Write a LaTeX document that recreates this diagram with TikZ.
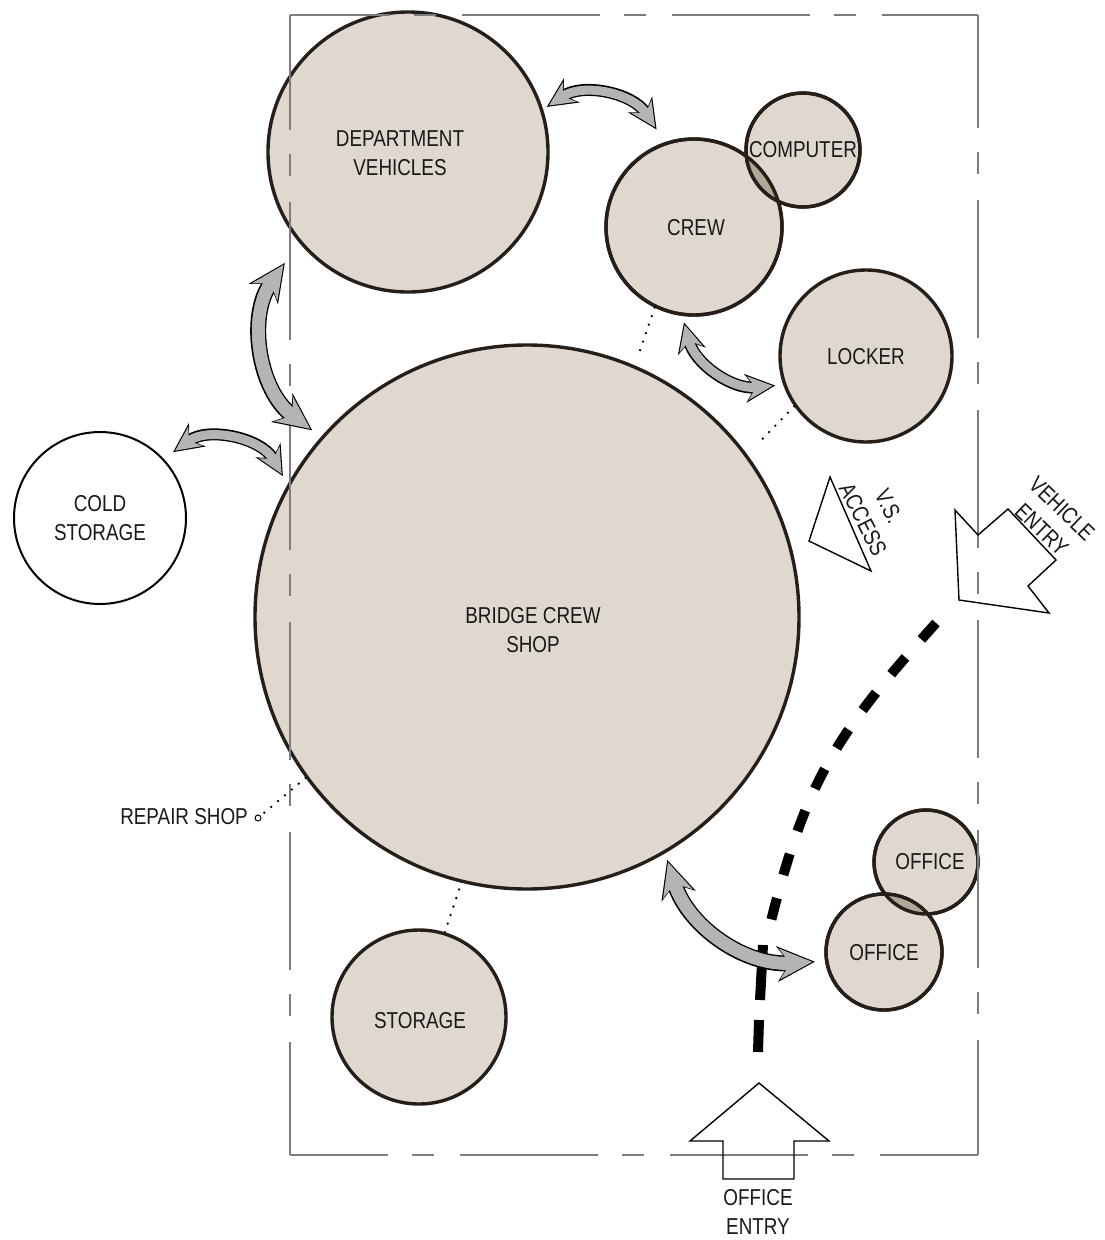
\documentclass[tikz,border=0pt]{standalone}
\usepackage{fontspec}
\setmainfont{Liberation Sans}[FakeStretch=0.82]
\usetikzlibrary{arrows.meta,calc}
\definecolor{roomfill}{RGB}{222,216,208}
\definecolor{roomedge}{RGB}{38,30,24}
\definecolor{overlapfill}{RGB}{180,166,150}
\definecolor{linkgray}{RGB}{180,180,180}
\definecolor{framegray}{RGB}{125,125,125}
\begin{document}
\begin{tikzpicture}[x=1pt,y=-1pt,
  room/.style={circle, draw=roomedge, line width=3.4pt, fill=roomfill, inner sep=0pt, minimum size=#1},
  openroom/.style={circle, draw=black, line width=2pt, fill=white, inner sep=0pt, minimum size=#1},
  ring/.style={draw=roomedge, line width=3.4pt},
  lbl/.style={font=\fontsize{23}{29}\selectfont, align=center, inner sep=0pt, text=black!90},
  frameline/.style={draw=framegray, line width=1.6pt, dash pattern=on 138pt off 24pt on 22pt off 26pt},
  dots/.style={line width=2.6pt, line cap=round, dash pattern=on 0pt off 9pt},
  outline/.style={draw=black, line width=1.4pt, line join=miter},
  fatS/.style={
    preaction={draw=black, line width=12pt, shorten <=0pt, shorten >=0pt,
      {Stealth[length=30pt,width=29pt,line width=0pt]}-{Stealth[length=30pt,width=29pt,line width=0pt]}},
    draw=linkgray, line width=9pt, shorten <=2.5pt, shorten >=2.5pt,
    {Stealth[length=25pt,width=24pt,line width=0pt]}-{Stealth[length=25pt,width=24pt,line width=0pt]}},
  fatL/.style={
    preaction={draw=black, line width=16pt, shorten <=0pt, shorten >=0pt,
      {Stealth[length=38pt,width=36pt,line width=0pt]}-{Stealth[length=38pt,width=36pt,line width=0pt]}},
    draw=linkgray, line width=13pt, shorten <=2.5pt, shorten >=2.5pt,
    {Stealth[length=33pt,width=31pt,line width=0pt]}-{Stealth[length=33pt,width=31pt,line width=0pt]}},
]
\useasboundingbox (0,0) rectangle (1104,1240);

% rooms
\node[room=280pt] (dv) at (408,152) {};
\node[room=176pt] (crew) at (694,227) {};
\node[room=114pt] (comp) at (803,150) {};
\node[room=172pt] (locker) at (866,356) {};
\node[room=544pt] (bridge) at (527,617) {};
\node[openroom=172pt] (cold) at (100,518) {};
\node[room=174pt] (storage) at (419,1017) {};
\node[room=104pt] (office1) at (926,862) {};
\node[room=116pt] (office2) at (884,952) {};

% overlapping rooms: shared area and hidden edges
\begin{scope}
  \clip (crew.center) circle[radius=88pt];
  \fill[overlapfill] (comp.center) circle[radius=57pt];
\end{scope}
\begin{scope}
  \clip (office1.center) circle[radius=52pt];
  \fill[overlapfill] (office2.center) circle[radius=58pt];
\end{scope}
\draw[ring] (crew.center) circle[radius=88pt];
\draw[ring] (comp.center) circle[radius=57pt];
\draw[ring] (office1.center) circle[radius=52pt];
\draw[ring] (office2.center) circle[radius=58pt];

% site boundary
\draw[frameline, dash phase=38pt] (290,15) -- (978,15);
\draw[frameline, dash phase=25pt] (978,15) -- (978,1155);
\draw[frameline, dash phase=40pt] (290,1155) -- (978,1155);
\draw[frameline, dash phase=23pt] (290,15) -- (290,1155);

% adjacency dots
\node[circle, draw=black, line width=1pt, inner sep=0pt, minimum size=6pt] (rsdot) at (258,818) {};
\draw[dots] (crew.244) -- ($(bridge.center)!1.05!(bridge.67.5)$);
\draw[dots] (locker.215) -- ($(bridge.center)!1.065!(bridge.37.6)$);
\draw[dots] (bridge.216) -- (rsdot);
\draw[dots] (storage.73) -- ($(bridge.center)!1.025!(bridge.256)$);

% vehicle route
\draw[line width=10pt, dash pattern=on 22pt off 24pt]
  (936,623) .. controls (836,734) and (806,780) .. (770,925);
\draw[line width=10pt] (763,945) -- (760,1000);
\draw[line width=10pt] (759,1020) -- (758,1052);

% circulation links
\draw[fatS] ($(dv.center)!1.03!(dv.18)$) to[bend left=45] ($(crew.center)!1.165!(crew.111)$);
\draw[fatL] ($(dv.center)!1.17!(dv.222)$) to[bend right=44] ($(bridge.center)!1.04!(bridge.139)$);
\draw[fatS] ($(cold.center)!1.13!(cold.42)$) to[bend left=48] ($(bridge.center)!1.03!(bridge.150)$);
\draw[fatS] ($(crew.center)!1.07!(crew.264)$) to[bend right=40] ($(locker.center)!1.09!(locker.198)$);
\draw[fatL] ($(bridge.center)!1.025!(bridge.300)$) to[bend right=38] ($(office2.center)!1.17!(office2.188.5)$);

% access markers
\draw[outline] (830,477) -- (809,541) -- (871,571) -- cycle;
\draw[outline] (955,510) -- (978,535) -- (1008,509) -- (1056,560) -- (1028,586) -- (1049,613) -- (959,600) -- cycle;
\draw[outline] (759,1083) -- (829,1141) -- (794,1141) -- (794,1179) -- (723,1179) -- (723,1141) -- (690,1141) -- cycle;

% labels
\node[lbl] (dvl) at (400,153) {DEPARTMENT\\VEHICLES};
\node[lbl] (crewl) at (696,228) {CREW};
\node[lbl] (compl) at (803,150) {COMPUTER};
\node[lbl] (lockerl) at (866,357) {LOCKER};
\node[lbl] (bridgel) at (533,630) {BRIDGE CREW\\SHOP};
\node[lbl] (coldl) at (100,518) {COLD\\STORAGE};
\node[lbl] (storagel) at (420,1021) {STORAGE};
\node[lbl] (office1l) at (930,862) {OFFICE};
\node[lbl] (office2l) at (884,953) {OFFICE};
\node[lbl, anchor=east] (repairl) at (248,817) {REPAIR SHOP};
\node[lbl, rotate=-63] (vsl) at (876,513) {V.S.\\ACCESS};
\node[lbl, rotate=-44] (vehl) at (1052,519) {VEHICLE\\ENTRY};
\node[lbl] (offentl) at (758,1212) {OFFICE\\ENTRY};
\end{tikzpicture}
\end{document}
